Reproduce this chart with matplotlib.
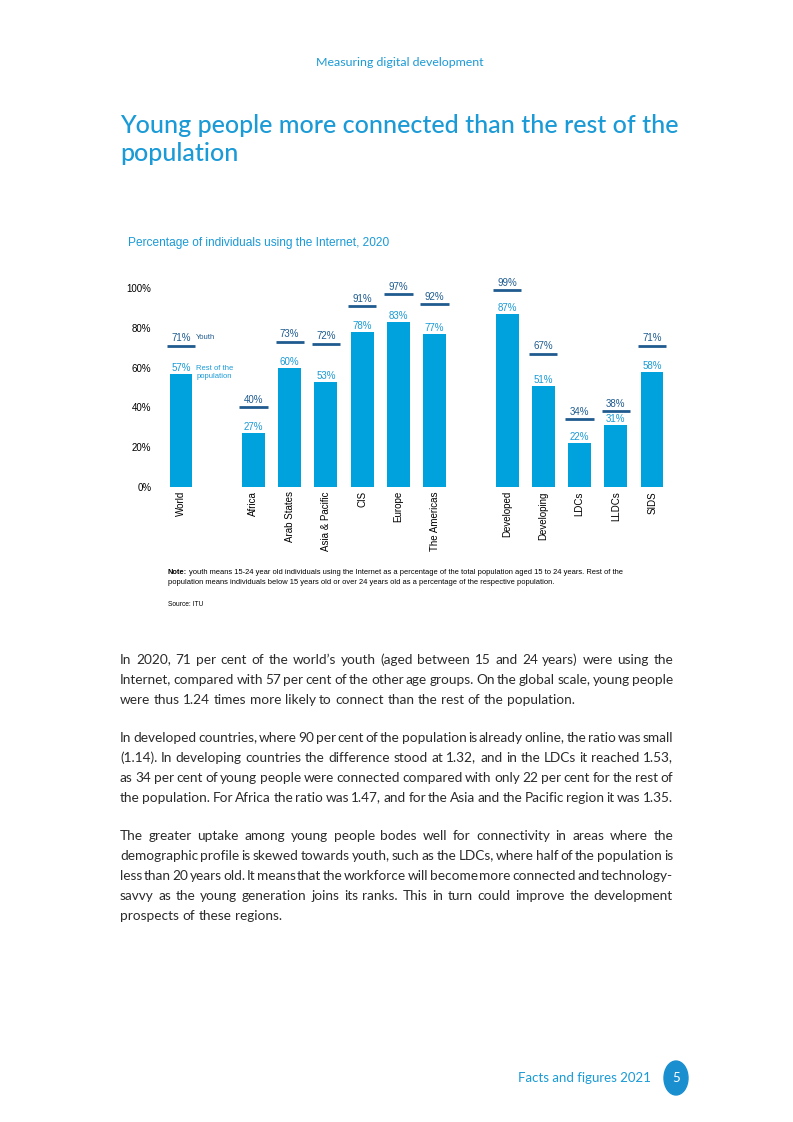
import numpy as np
import matplotlib
matplotlib.use('Agg')
import matplotlib.pyplot as plt
from matplotlib.patches import Circle

W, H = 793, 1122

# chart data
categories = ['World', 'Africa', 'Arab States', 'Asia & Pacific', 'CIS', 'Europe',
              'The Americas', 'Developed', 'Developing', 'LDCs', 'LLDCs', 'SIDS']
slots = [0, 2, 3, 4, 5, 6, 7, 9, 10, 11, 12, 13]
youth = [71, 40, 73, 72, 91, 97, 92, 99, 67, 34, 38, 71]
rest = [57, 27, 60, 53, 78, 83, 77, 87, 51, 22, 31, 58]
yticks = [0, 20, 40, 60, 80, 100]

BLUE = '#1a9ad6'
BAR = '#00a2de'
DARK = '#1f5b8f'
ARIAL = 'Liberation Sans'
BODY = 'Lato'

title_lines = ['Young people more connected than the rest of the', 'population']
paragraphs = [
    ["In 2020, 71 per cent of the world\u2019s youth (aged between 15 and 24 years) were using the",
     "Internet, compared with 57 per cent of the other age groups. On the global scale, young people",
     "were thus 1.24 times more likely to connect than the rest of the population."],
    ["In developed countries, where 90 per cent of the population is already online, the ratio was small",
     "(1.14). In developing countries the difference stood at 1.32, and in the LDCs it reached 1.53,",
     "as 34 per cent of young people were connected compared with only 22 per cent for the rest of",
     "the population. For Africa the ratio was 1.47, and for the Asia and the Pacific region it was 1.35."],
    ["The greater uptake among young people bodes well for connectivity in areas where the",
     "demographic profile is skewed towards youth, such as the LDCs, where half of the population is",
     "less than 20 years old. It means that the workforce will become more connected and technology-",
     "savvy as the young generation joins its ranks. This in turn could improve the development",
     "prospects of these regions."],
]
para_top = [659, 737, 835]
line_gap = 20


def fx(x):
    return x / W


def fy(y):
    return 1 - y / H


fig = plt.figure(figsize=(W / 100, H / 100), dpi=100)
fig.patch.set_facecolor('white')
renderer = fig.canvas.get_renderer()


def width_of(s, size, family, weight='normal'):
    t = fig.text(0, 0, s, fontsize=size, family=family, weight=weight)
    w = t.get_window_extent(renderer).width
    t.remove()
    return w


# page header and title
fig.text(fx(400), fy(63), 'Measuring digital development', ha='center', va='center',
         color=BLUE, fontsize=8.9, family=BODY)
title_size = 18.0 * 558 / width_of(title_lines[0], 18.0, BODY, 'medium')
for k, tl in enumerate(title_lines):
    fig.text(fx(120), fy(133 + 28 * k), tl, ha='left', va='baseline', color=BLUE,
             fontsize=title_size, family=BODY, weight='medium')
fig.text(fx(128), fy(243), 'Percentage of individuals using the Internet, 2020', ha='left',
         va='center', color=BLUE, fontsize=8.6, family=ARIAL)

# chart
ax = fig.add_axes([fx(161), fy(487), fx(672) - fx(161), (487 - 288) / H])
ax.bar(slots, rest, width=0.63, color=BAR, zorder=2)
ax.hlines(youth, np.array(slots) - 0.39, np.array(slots) + 0.39, color=DARK, lw=2, zorder=3)
for s, y, r in zip(slots, youth, rest):
    ax.text(s, y + 1.2, f'{y}%', ha='center', va='bottom', color=DARK, fontsize=7,
            family=ARIAL, clip_on=False)
    ax.text(s, r + 0.5, f'{r}%', ha='center', va='bottom', color=BLUE, fontsize=7,
            family=ARIAL, clip_on=False)
ax.text(0.42, youth[0] + 4, 'Youth', ha='left', va='center', color=DARK, fontsize=5.5,
        family=ARIAL)
ax.text(0.42, rest[0] + 0.5, 'Rest of the\npopulation', ha='left', va='center', color=BLUE,
        fontsize=5.5, family=ARIAL, linespacing=1.1)
ax.set_xlim(-0.55, 13.55)
ax.set_ylim(0, 100)
ax.set_yticks(yticks)
ax.set_yticklabels([f'{t}%' for t in yticks], family=ARIAL, fontsize=7)
ax.set_xticks(slots)
ax.set_xticklabels(categories, rotation=90, family=ARIAL, fontsize=7, va='top')
ax.tick_params(axis='y', length=0, pad=7)
ax.tick_params(axis='x', length=0, pad=3)
for sp in ax.spines.values():
    sp.set_visible(False)

# note and source
note_size = 5.4
fig.text(fx(168), fy(573), 'Note:', ha='left', va='center', fontsize=note_size, family=ARIAL,
         weight='bold')
nw = width_of('Note: ', note_size, ARIAL, 'bold')
fig.text(fx(168 + nw), fy(573), 'youth means 15-24 year old individuals using the Internet as a '
         'percentage of the total population aged 15 to 24 years. Rest of the',
         ha='left', va='center', fontsize=note_size, family=ARIAL)
fig.text(fx(168), fy(583), 'population means individuals below 15 years old or over 24 years old as a '
         'percentage of the respective population.',
         ha='left', va='center', fontsize=note_size, family=ARIAL)
fig.text(fx(168), fy(605), 'Source: ITU', ha='left', va='center', fontsize=4.8, family=ARIAL)

# body text, justified between x=120 and x=673
left, right = 120, 673
# pick a size so that the short closing line of paragraph 1 is as long as in the page
body_size = 10.0 * 453 / width_of(paragraphs[0][2], 10.0, BODY)
sw = width_of('a a', body_size, BODY) - width_of('aa', body_size, BODY)
for lines, top in zip(paragraphs, para_top):
    for i, line in enumerate(lines):
        y = top + i * line_gap + 4.5
        words = line.split(' ')
        texts = [fig.text(0, fy(y), w, ha='left', va='baseline', fontsize=body_size,
                          family=BODY, color='#2b2b2b') for w in words]
        widths = [t.get_window_extent(renderer).width for t in texts]
        natural = sum(widths) + sw * (len(words) - 1)
        if i == len(lines) - 1 and natural < (right - left) * 0.9:
            gap = sw
        else:
            gap = (right - left - sum(widths)) / max(len(words) - 1, 1)
        x = left
        for t, w in zip(texts, widths):
            t.set_x(fx(x))
            x += w + gap

# footer
fig.text(fx(651), fy(1078), 'Facts and figures 2021', ha='right', va='center', color=BLUE,
         fontsize=9.5, family=BODY)
fig.patches.append(Circle((fx(676), fy(1078)), 12 / W, transform=fig.transFigure,
                          color='#1a8fd0', figure=fig))
fig.text(fx(676), fy(1078), '5', ha='center', va='center', color='white', fontsize=9.5,
         family=BODY)

fig.savefig('out.png', dpi=100, facecolor='white')
